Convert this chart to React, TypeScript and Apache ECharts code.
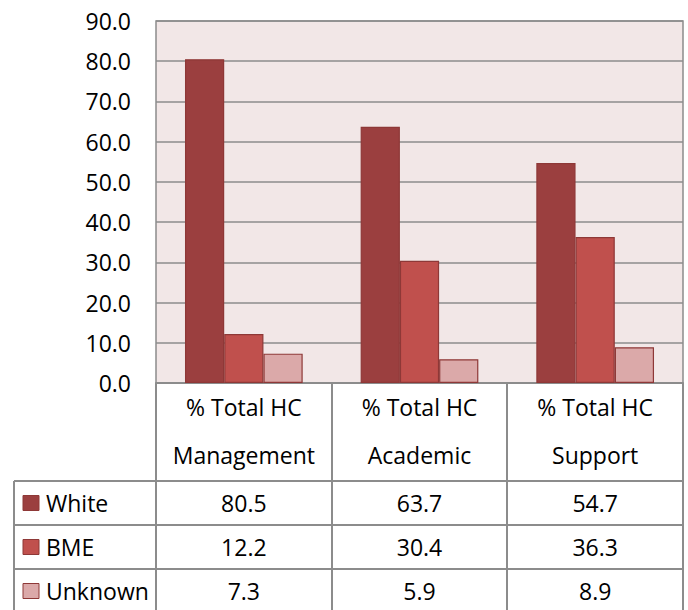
import React, { useEffect, useRef } from "react";
import * as echarts from "echarts";

const categories = ["Management", "Academic", "Support"];
const headerPrefix = "% Total HC";
const seriesNames = ["White", "BME", "Unknown"];
const whiteValues = [80.5, 63.7, 54.7];
const bmeValues = [12.2, 30.4, 36.3];
const unknownValues = [7.3, 5.9, 8.9];
const yMin = 0;
const yMax = 90;
const yStep = 10;

const seriesValues = [whiteValues, bmeValues, unknownValues];
const seriesColors = ["#9B3F3F", "#C0504D", "#DBA9A9"];
const barBorder = "#8E3837";
const FONT = "'Open Sans', 'Noto Sans', sans-serif";
const FS = 23;
const GRIDC = "#8C8C8C";

const W = 688;
const H = 610;
const PLOT_L = 156;
const PLOT_R = 683;
const PLOT_T = 21;
const PLOT_B = 383;
const HEADER_B = 481;
const ROW_H = 44;
const TABLE_L = 14;

export default function App() {
  const ref = useRef<HTMLDivElement>(null);
  useEffect(() => {
    if (!ref.current) return;
    const chart = echarts.init(ref.current, null, { renderer: "svg" });
    const catW = (PLOT_R - PLOT_L) / categories.length;
    const graphics: any[] = [];
    const line = (x1: number, y1: number, x2: number, y2: number) =>
      graphics.push({
        type: "line",
        shape: { x1, y1, x2, y2 },
        style: { stroke: GRIDC, lineWidth: 2 },
        z: 10,
      });
    for (let i = 0; i <= categories.length; i++) {
      const x = Math.round(PLOT_L + i * catW);
      line(x, PLOT_B, x, H);
    }
    line(TABLE_L, HEADER_B, TABLE_L, H);
    for (let r = 0; r < seriesNames.length; r++) {
      const y = HEADER_B + r * ROW_H;
      line(TABLE_L, y, PLOT_R, y);
    }
    seriesNames.forEach((name, r) => {
      const cy = HEADER_B + r * ROW_H + ROW_H / 2;
      graphics.push({
        type: "rect",
        shape: { x: 23, y: cy - 7.5, width: 16, height: 15 },
        style: { fill: seriesColors[r], stroke: barBorder, lineWidth: 1 },
        z: 10,
      });
      graphics.push({
        type: "text",
        x: 46,
        y: cy,
        style: {
          text: name,
          fontFamily: FONT,
          fontSize: FS,
          fill: "#000",
          verticalAlign: "middle",
          align: "left",
        },
        z: 10,
      });
      seriesValues[r].forEach((v, c) => {
        graphics.push({
          type: "text",
          x: PLOT_L + (c + 0.5) * catW,
          y: cy,
          style: {
            text: v.toFixed(1),
            fontFamily: FONT,
            fontSize: FS,
            fill: "#000",
            verticalAlign: "middle",
            align: "center",
          },
          z: 10,
        });
      });
    });

    chart.setOption({
      animation: false,
      grid: {
        left: PLOT_L,
        right: W - PLOT_R,
        top: PLOT_T,
        bottom: H - PLOT_B,
        show: true,
        backgroundColor: "#F2E7E7",
        borderColor: GRIDC,
        borderWidth: 1.5,
      },
      xAxis: {
        type: "category",
        data: categories,
        axisTick: { show: false },
        axisLine: { show: true, lineStyle: { color: GRIDC, width: 2 } },
        axisLabel: {
          formatter: (v: string) => headerPrefix + "\n" + v,
          fontFamily: FONT,
          fontSize: FS,
          color: "#000",
          lineHeight: 48,
          margin: 0,
          interval: 0,
        },
      },
      yAxis: {
        type: "value",
        min: yMin,
        max: yMax,
        interval: yStep,
        axisLine: { show: false },
        axisTick: { show: false },
        splitLine: { lineStyle: { color: GRIDC, width: 1.5 } },
        axisLabel: {
          formatter: (v: number) => v.toFixed(1),
          fontFamily: FONT,
          fontSize: FS,
          color: "#000",
          margin: 25,
        },
      },
      series: seriesNames.map((name, i) => ({
        name,
        type: "bar",
        data: seriesValues[i],
        barGap: "0%",
        barCategoryGap: "33%",
        itemStyle: {
          color: seriesColors[i],
          borderColor: barBorder,
          borderWidth: 1.2,
        },
      })),
      graphic: graphics,
    });
    return () => chart.dispose();
  }, []);
  return (
    <div
      ref={ref}
      style={{ position: "fixed", left: 0, top: 0, width: W, height: H, background: "#fff" }}
    />
  );
}
